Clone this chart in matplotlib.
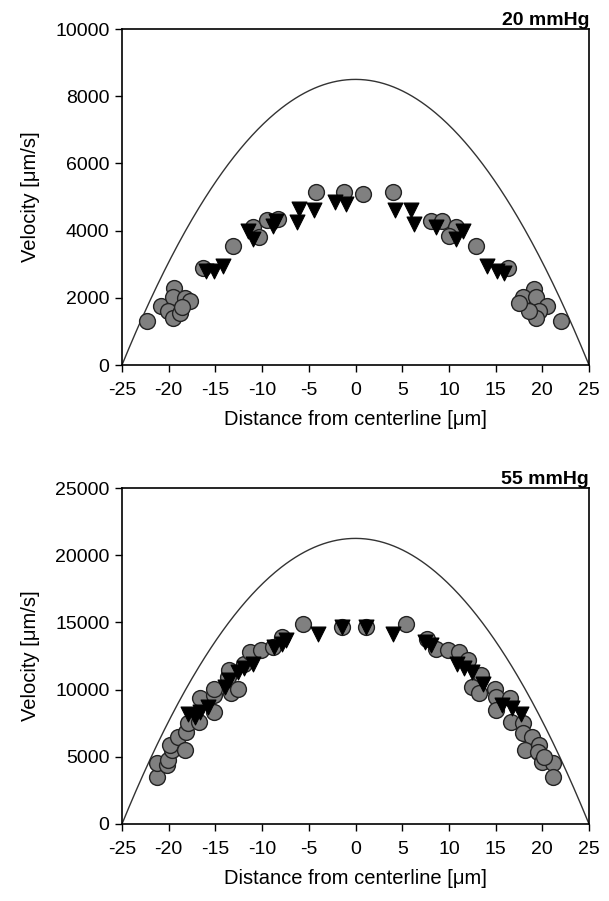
import numpy as np
import matplotlib
matplotlib.use("Agg")
import matplotlib.pyplot as plt

plt.rcParams['font.family'] = ['Liberation Sans', 'DejaVu Sans']
plt.rcParams['axes.unicode_minus'] = False

# ---------------- 20 mmHg ----------------
top_peak = 8500
top_circ_x = [-22.3, -20.8, -19.4, -19.5, -18.3, -17.7, -20.1, -19.5, -18.8, -18.6,
              -16.3, -13.1, -11.0, -10.3, -9.5, -8.3, -4.2, -1.2, 0.8, 4.0,
              8.1, 9.3, 10.8, 10.0, 12.9, 16.3, 19.1, 17.9, 19.3, 20.5,
              19.7, 19.3, 18.6, 17.5, 22.0]
top_circ_y = [1310, 1760, 2290, 2010, 1990, 1890, 1610, 1410, 1560, 1730,
              2900, 3550, 4100, 3800, 4320, 4350, 5140, 5140, 5100, 5140,
              4300, 4300, 4100, 3850, 3550, 2900, 2260, 2010, 2010, 1760,
              1610, 1410, 1610, 1860, 1310]
top_tri_x = [-16.0, -15.2, -14.2, -11.5, -11.0, -8.8, -8.5, -6.3, -6.0, -4.4,
             -2.2, -1.0, 4.2, 5.9, 6.3, 8.6, 10.8, 11.5, 14.1, 15.2, 15.9]
top_tri_y = [2800, 2800, 2950, 4000, 3750, 4150, 4300, 4250, 4650, 4600,
             4850, 4800, 4600, 4600, 4200, 4100, 3750, 4000, 2950, 2800, 2750]

# ---------------- 55 mmHg ----------------
bot_peak = 21250
bot_circ_x = [-21.3, -21.3, -20.2, -20.1, -19.7, -19.9, -19.0, -18.3, -18.1, -17.9,
              -16.8, -16.7, -15.2, -15.1, -15.1, -13.6, -13.3, -12.6, -13.5, -11.9,
              -11.3, -10.1, -8.8, -7.9, -5.6, -1.4,
              1.1, 5.4, 7.7, 8.6, 9.9, 11.1, 12.0, 13.4, 12.5, 13.2,
              14.9, 15.0, 16.5, 15.0, 16.6, 17.9, 17.9, 18.9, 18.1, 19.7,
              19.5, 20.0, 21.1, 21.1, 20.2]
bot_circ_y = [3510, 4560, 4380, 4750, 5500, 5870, 6490, 5500, 6860, 7480,
              7600, 9340, 8340, 9580, 10080, 10940, 9710, 10080, 11440, 11940,
              12800, 12930, 13170, 13920, 14910, 14660,
              14660, 14910, 13800, 13050, 12930, 12800, 12190, 11070, 10200, 9710,
              10080, 9460, 9340, 8470, 7600, 7480, 6740, 6490, 5500, 5870,
              5370, 4630, 4510, 3510, 5000]
bot_tri_x = [-17.9, -17.2, -16.7, -15.8, -14.0, -13.5, -12.6, -11.9, -11.0, -8.7,
             -7.9, -7.4, -4.0, -1.4,
             1.1, 4.0, 7.4, 8.1, 10.9, 11.6, 12.5, 13.6, 15.7, 16.8, 17.7]
bot_tri_y = [8220, 7970, 8340, 8720, 10200, 10700, 11320, 11570, 11940, 13170,
             13430, 13670, 14170, 14660,
             14660, 14170, 13550, 13300, 11940, 11570, 11320, 10450, 8840, 8600, 8220]

x_ticks = [-25, -20, -15, -10, -5, 0, 5, 10, 15, 20, 25]
top_yticks = [0, 2000, 4000, 6000, 8000, 10000]
bot_yticks = [0, 5000, 10000, 15000, 20000, 25000]

W, H = 609, 901
fig = plt.figure(figsize=(W / 100, H / 100), dpi=100)

L = 122 / W
AW = (589 - 122) / W
ax1 = fig.add_axes([L, 1 - 365 / H, AW, (365 - 29) / H])
ax2 = fig.add_axes([L, 1 - 824 / H, AW, (824 - 488) / H])

xs = np.linspace(-25, 25, 400)

def draw(ax, peak, cx, cy, tx, ty, yticks, title):
    ax.plot(xs, peak * (1 - (xs / 25.0) ** 2), color='#333333', lw=1.0, zorder=1)
    ax.scatter(cx, cy, s=130, marker='o', facecolor='#808080',
               edgecolor='#222222', linewidth=1.0, zorder=2)
    ax.scatter(tx, ty, s=115, marker='v', facecolor='black',
               edgecolor='black', linewidth=0.8, zorder=3)
    ax.set_xlim(-25, 25)
    ax.set_ylim(yticks[0], yticks[-1])
    ax.set_xticks(x_ticks)
    ax.set_yticks(yticks)
    ax.tick_params(direction='out', length=5, width=1.0, labelsize=14, pad=4,
                   colors='black')
    ax.tick_params(axis='x', pad=7)
    for s in ax.spines.values():
        s.set_linewidth(1.2)
        s.set_color('black')
    ax.set_xlabel('Distance from centerline [μm]', fontsize=14.5, labelpad=8)
    ax.set_ylabel('Velocity [μm/s]', fontsize=14.5, labelpad=11)
    ax.set_title(title, loc='right', fontsize=14, fontweight='bold', pad=3)

draw(ax1, top_peak, top_circ_x, top_circ_y, top_tri_x, top_tri_y, top_yticks, '20 mmHg')
draw(ax2, bot_peak, bot_circ_x, bot_circ_y, bot_tri_x, bot_tri_y, bot_yticks, '55 mmHg')

fig.savefig('out.png', dpi=100)
